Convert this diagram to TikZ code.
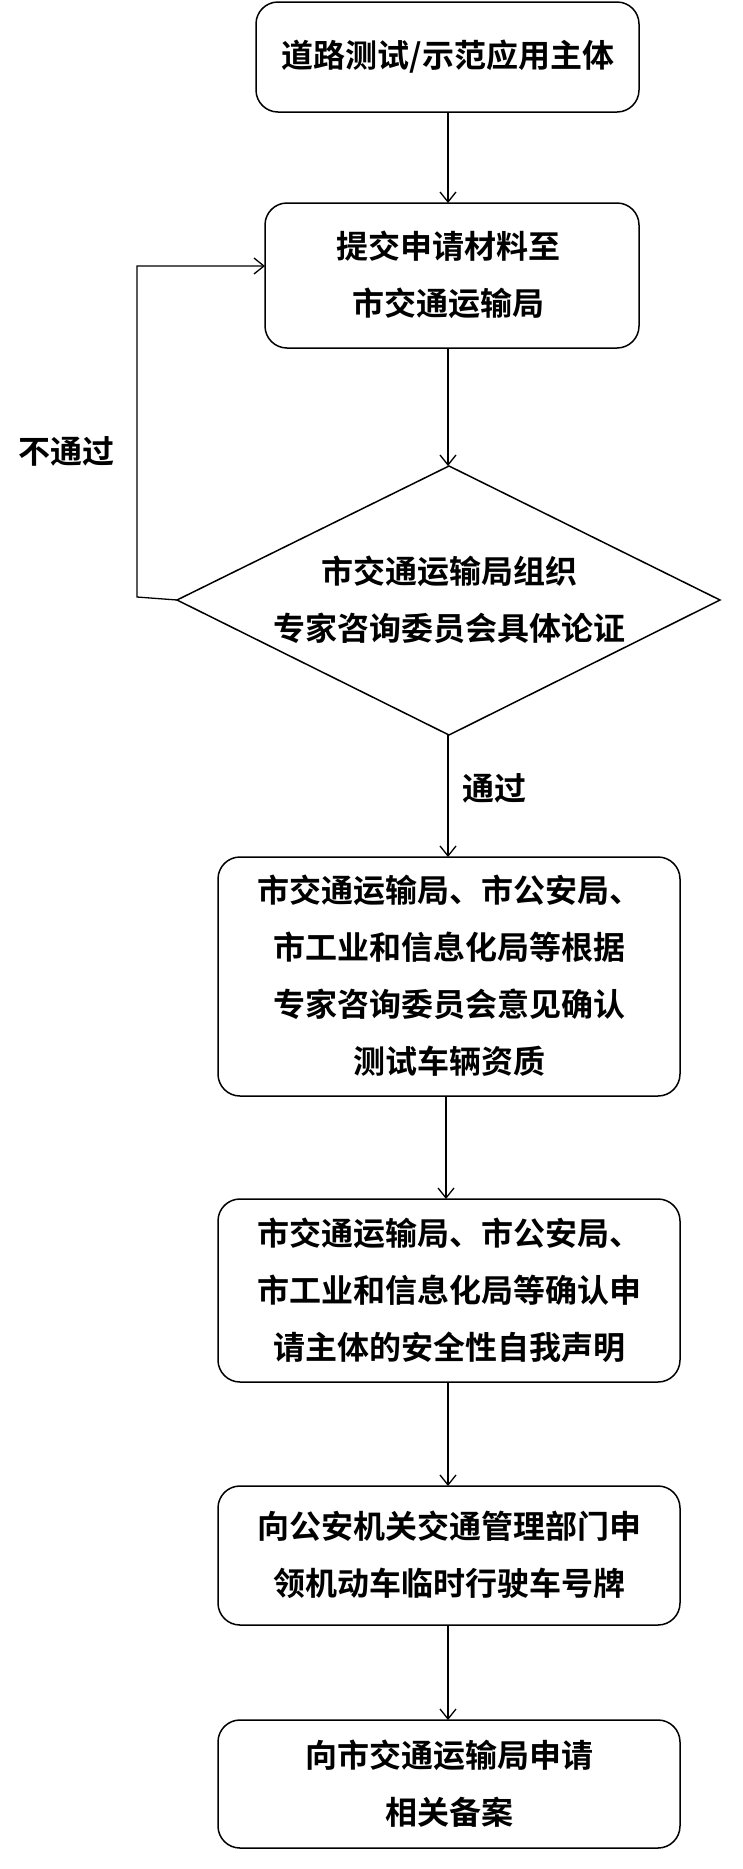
\documentclass[tikz,border=0pt]{standalone}
\usepackage{fontspec}
\setmainfont{Noto Sans CJK SC}[BoldFont={Noto Sans CJK SC Bold}]
\usetikzlibrary{arrows.meta}
\begin{document}
\begin{tikzpicture}[x=1pt,y=-1pt,
  box/.style={draw,line width=1.5pt,rounded corners=22pt},
  txt/.style={align=center,font=\fontsize{32}{57}\selectfont\bfseries},
  arr/.style={line width=1.3pt,-{Straight Barb[length=10pt,width=16pt]}}]
\useasboundingbox (0,0) rectangle (742,1869);
\draw[box] (256,2) rectangle (639,112);
\node[txt] (t1) at (448,57) {道路测试/示范应用主体};
\draw[box] (265,203) rectangle (639,348);
\node[txt] (t2) at (448,275) {提交申请材料至\\市交通运输局};
\draw[line width=1.5pt] (449,466) -- (720,600) -- (449,735) -- (177,600) -- cycle;
\node[txt] (t3) at (449,600) {市交通运输局组织\\专家咨询委员会具体论证};
\draw[box] (218,857) rectangle (680,1096);
\node[txt] (t4) at (449,976) {市交通运输局、市公安局、\\市工业和信息化局等根据\\专家咨询委员会意见确认\\测试车辆资质};
\draw[box] (218,1199) rectangle (680,1382);
\node[txt] (t5) at (449,1290) {市交通运输局、市公安局、\\市工业和信息化局等确认申\\请主体的安全性自我声明};
\draw[box] (218,1486) rectangle (680,1625);
\node[txt] (t6) at (449,1555) {向公安机关交通管理部门申\\领机动车临时行驶车号牌};
\draw[box] (218,1720) rectangle (680,1848);
\node[txt] (t7) at (449,1784) {向市交通运输局申请\\相关备案};
\coordinate (a1) at (448,112); \coordinate (b1) at (448,203);
\coordinate (a2) at (448,348); \coordinate (b2) at (448,466);
\coordinate (a3) at (448,735); \coordinate (b3) at (448,857);
\coordinate (a4) at (446,1096); \coordinate (b4) at (446,1199);
\coordinate (a5) at (448,1382); \coordinate (b5) at (448,1486);
\coordinate (a6) at (448,1625); \coordinate (b6) at (448,1720);
\foreach \i in {1,...,6} \draw[arr] (a\i) -- (b\i);
\coordinate (l) at (177,600); \coordinate (r) at (265,266);
\draw[arr] (l) -- (137,597) -- (137,266) -- (r);
\node[txt] (n1) at (66,451) {不通过};
\node[txt] (n2) at (494,788) {通过};
\end{tikzpicture}
\end{document}
